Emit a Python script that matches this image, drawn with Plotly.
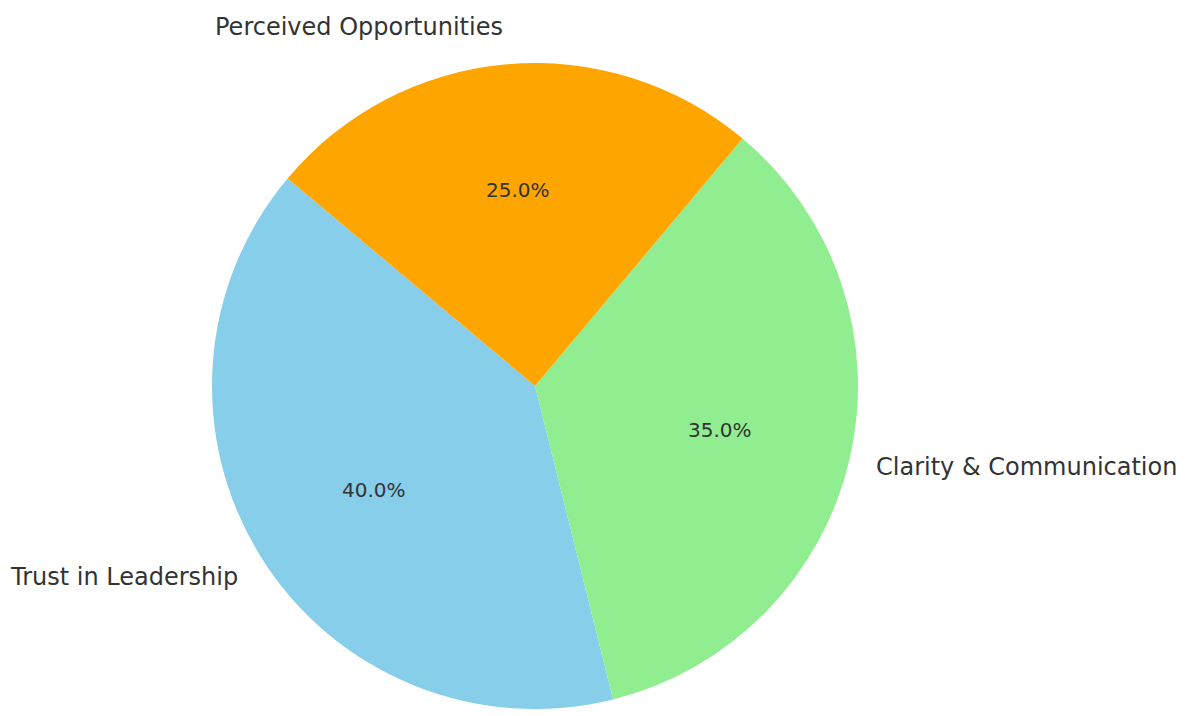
import math
import plotly.graph_objects as go

labels = ["Trust in Leadership", "Clarity & Communication", "Perceived Opportunities"]
values = [40, 35, 25]
colors = ["#87CEEB", "#90EE90", "#FFA500"]

W, H = 1186, 716
cx, cy = 535, 386          # pie centre in pixels
r = 323                    # pie radius in pixels
rx, ry = 316.5, 328        # text placement radii (reference aspect)
start_angle = 140          # degrees, counterclockwise from 3 o'clock

total = sum(values)
first_end = start_angle + 360 * values[0] / total

fig = go.Figure(go.Pie(
    labels=labels,
    values=values,
    marker=dict(colors=colors, line=dict(width=0)),
    sort=False,
    direction="counterclockwise",
    rotation=90 - first_end,
    textinfo="none",
    hoverinfo="label+percent",
    showlegend=False,
    domain=dict(x=[(cx - r) / W, (cx + r) / W],
                y=[1 - (cy + r) / H, 1 - (cy - r) / H]),
))

ang = start_angle
annotations = []
for lab, v in zip(labels, values):
    span = 360 * v / total
    mid = math.radians(ang + span / 2)
    ang += span
    c, s = math.cos(mid), math.sin(mid)
    lx, ly = cx + 1.1 * rx * c, cy - 1.1 * ry * s
    annotations.append(dict(
        x=lx / W, y=1 - ly / H, xref="paper", yref="paper",
        text=lab, showarrow=False,
        xanchor="left" if c > 0 else "right", yanchor="middle",
        font=dict(family="DejaVu Sans", size=24, color="#333333"),
    ))
    px, py = cx + 0.6 * rx * c, cy - 0.6 * ry * s
    annotations.append(dict(
        x=px / W, y=1 - py / H, xref="paper", yref="paper",
        text=f"{100 * v / total:.1f}%", showarrow=False,
        xanchor="center", yanchor="middle",
        font=dict(family="DejaVu Sans", size=20, color="#333333"),
    ))

fig.update_layout(
    width=W, height=H,
    margin=dict(l=0, r=0, t=0, b=0),
    paper_bgcolor="white",
    plot_bgcolor="white",
    annotations=annotations,
)

fig.write_html("out.html", config={"displayModeBar": False},
               post_script="document.body.style.margin='0';")
